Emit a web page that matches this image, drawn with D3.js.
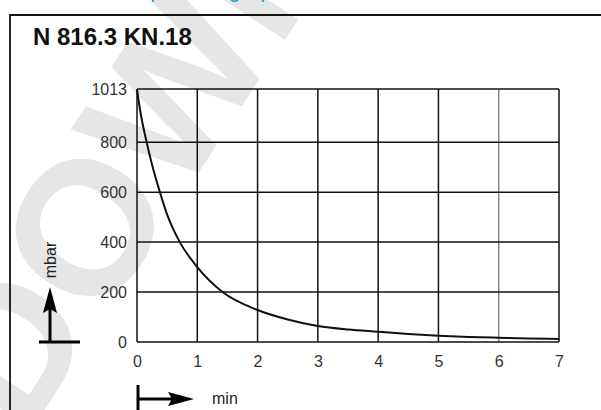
<!DOCTYPE html>
<html>
<head>
<meta charset="utf-8">
<script src="https://cdn.jsdelivr.net/npm/d3@7"></script>
<style>
  body { margin: 0; background: #fff; }
  svg text { font-family: "Liberation Sans", Arial, sans-serif; }
</style>
</head>
<body>
<svg id="chart" width="601" height="410"></svg>
<script>
// pump-down curve
const times     = [0, 0.05, 0.16, 0.25, 0.38, 0.5, 0.71, 1.0, 1.42, 2.0, 2.5, 3.0, 3.5, 4.0, 4.5, 5.0, 5.5, 6.0, 6.5, 7.0];
const pressures = [1013, 930, 800, 710, 600, 510, 400, 300, 200, 128, 90, 64, 50, 41, 32, 25, 20, 17, 14, 12];
const xTicks = [0, 1, 2, 3, 4, 5, 6, 7];
const yTicks = [0, 200, 400, 600, 800, 1013];

const title = "N 816.3 KN.18";
const yLabel = "mbar";
const xLabel = "min";

let svg = d3.select("svg#chart");

// watermark behind everything
svg.append("text")
    .attr("transform", "translate(25,440) rotate(-57)")
    .attr("font-size", 190)
    .attr("font-weight", "bold")
    .attr("fill", "#e6e6e6")
    .text("DOWNLOAD");

// blue heading, cut off by the top edge
svg.append("text")
    .attr("x", 105)
    .attr("y", -3)
    .attr("font-size", 22)
    .attr("fill", "#1a9fe0")
    .text("Pump-down graph");

// frame
svg.append("path")
    .attr("d", "M10,412 L10,15 L603,15")
    .attr("fill", "none")
    .attr("stroke", "#111")
    .attr("stroke-width", 1.8);

svg.append("text")
    .attr("x", 33)
    .attr("y", 45)
    .attr("font-size", 24)
    .attr("font-weight", "bold")
    .attr("fill", "#111")
    .text(title);

let x = d3.scaleLinear().domain([0, 7]).range([137, 559]);
let y = d3.scaleLinear().domain([0, 1013]).range([342, 89]);

// grid
let grid = svg.append("g").attr("class", "grid");
grid.selectAll("line.v").data(xTicks).enter().append("line")
    .attr("x1", function(d) { return x(d); })
    .attr("x2", function(d) { return x(d); })
    .attr("y1", y(0))
    .attr("y2", y(1013))
    .attr("stroke", function(d) { return d === 6 ? "#888" : "#111"; })
    .attr("stroke-width", 1.5);
grid.selectAll("line.h").data(yTicks).enter().append("line")
    .attr("x1", x(0))
    .attr("x2", x(7))
    .attr("y1", function(d) { return y(d); })
    .attr("y2", function(d) { return y(d); })
    .attr("stroke", "#111")
    .attr("stroke-width", 1.5);

// tick labels via axes, domain and tick lines hidden
svg.append("g")
    .attr("transform", "translate(0," + y(0) + ")")
    .call(d3.axisBottom(x).tickValues(xTicks).tickFormat(d3.format("d")).tickSize(0).tickPadding(14))
    .call(function(g) { g.select(".domain").remove(); })
    .selectAll("text")
      .attr("font-size", 16)
      .attr("fill", "#333");

svg.append("g")
    .attr("transform", "translate(" + x(0) + ",0)")
    .call(d3.axisLeft(y).tickValues(yTicks).tickFormat(d3.format("d")).tickSize(0).tickPadding(10))
    .call(function(g) { g.select(".domain").remove(); })
    .selectAll("text")
      .attr("font-size", 16)
      .attr("fill", "#333");

// curve
let line = d3.line()
    .x(function(d, i) { return x(times[i]); })
    .y(function(d) { return y(d); })
    .curve(d3.curveMonotoneX);

svg.append("path")
    .datum(pressures)
    .attr("d", line)
    .attr("fill", "none")
    .attr("stroke", "#111")
    .attr("stroke-width", 2);

// y label with arrow
svg.append("line").attr("x1", 39).attr("x2", 80).attr("y1", 342).attr("y2", 342)
    .attr("stroke", "#000").attr("stroke-width", 3);
svg.append("line").attr("x1", 50).attr("x2", 50).attr("y1", 342).attr("y2", 305)
    .attr("stroke", "#000").attr("stroke-width", 3);
svg.append("path").attr("d", "M50,287 L57,313 L50,309 L43,313 Z").attr("fill", "#000");
svg.append("text")
    .attr("transform", "translate(56,260) rotate(-90)")
    .attr("text-anchor", "middle")
    .attr("font-size", 16)
    .attr("fill", "#222")
    .text(yLabel);

// x label with arrow
svg.append("line").attr("x1", 138).attr("x2", 138).attr("y1", 385).attr("y2", 412)
    .attr("stroke", "#000").attr("stroke-width", 3);
svg.append("line").attr("x1", 138).attr("x2", 176).attr("y1", 399).attr("y2", 399)
    .attr("stroke", "#000").attr("stroke-width", 3);
svg.append("path").attr("d", "M194,399 L168,406 L172,399 L168,392 Z").attr("fill", "#000");
svg.append("text")
    .attr("x", 212)
    .attr("y", 404)
    .attr("font-size", 16)
    .attr("fill", "#222")
    .text(xLabel);
</script>
</body>
</html>
